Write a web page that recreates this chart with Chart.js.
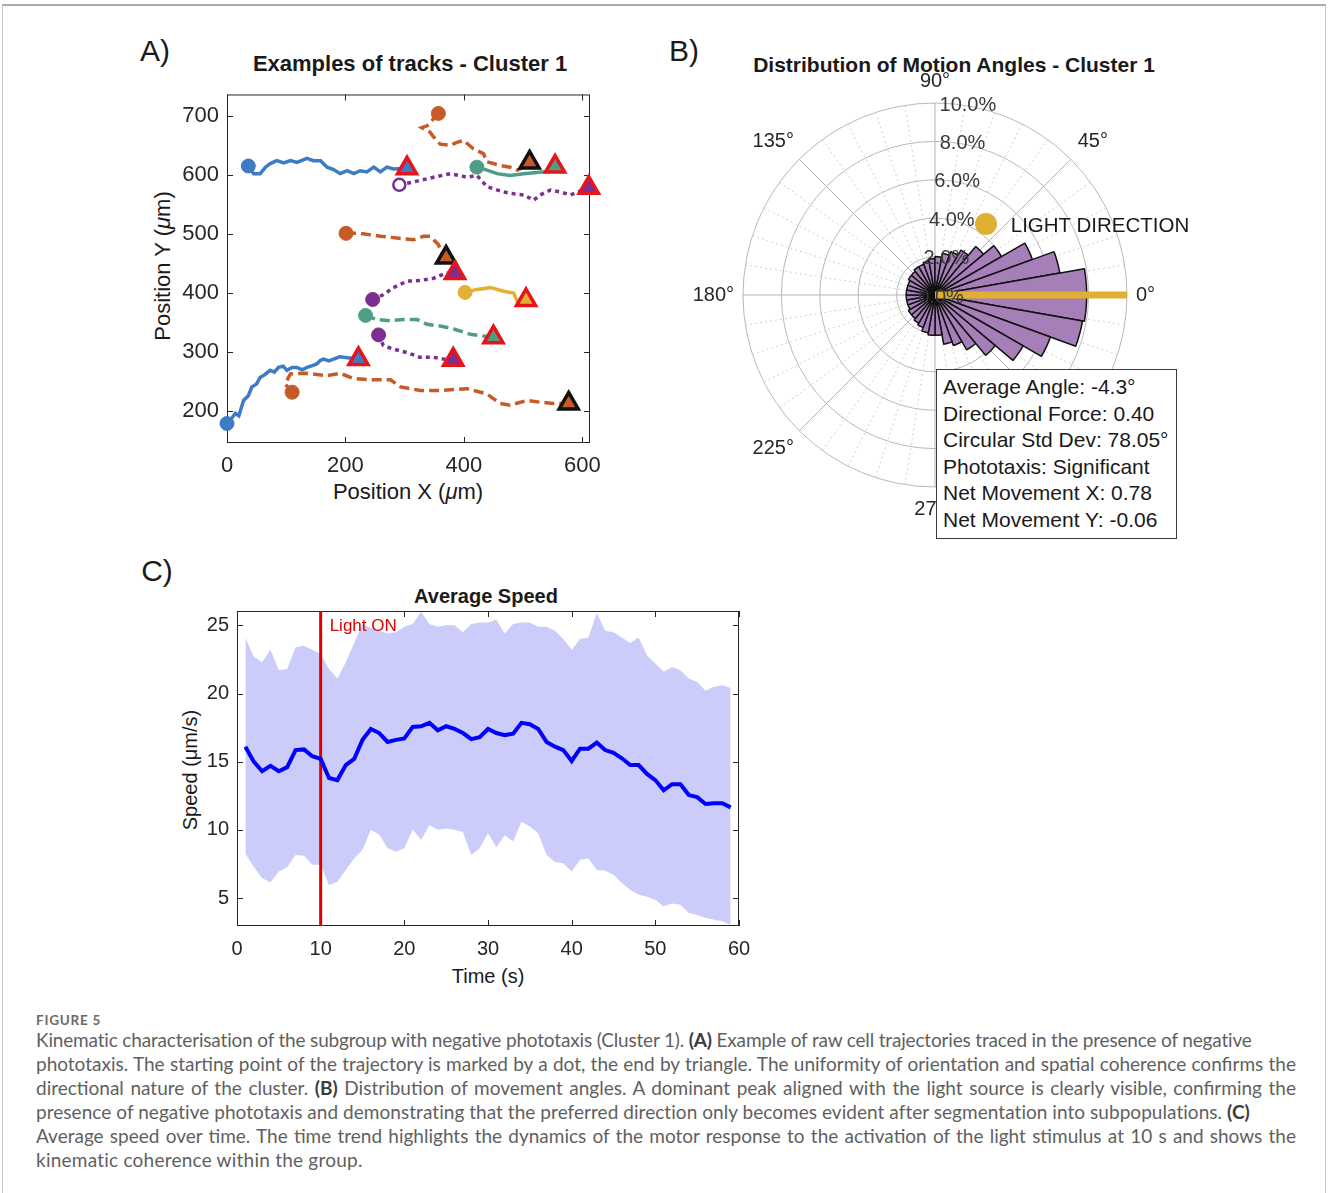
<!DOCTYPE html>
<html>
<head>
<meta charset="utf-8">
<script src="https://cdn.jsdelivr.net/npm/chart.js@4.4.1/dist/chart.umd.min.js"></script>
<style>
  body { margin: 0; background: #fff; }
  #page { position: relative; width: 1328px; height: 1193px; overflow: hidden;
          font-family: "Liberation Sans", Arial, sans-serif; color: #1a1a1a; }
  .frame { position: absolute; left: 2px; top: 4px; width: 1322px; height: 1200px;
           border: 1px solid #c4c4c4; border-top: 2px solid #a8a8a8; }
  .wrap { position: absolute; }
  .t { position: absolute; white-space: nowrap; line-height: 1; transform: translate(-50%, -50%); }
  .v { position: absolute; white-space: nowrap; line-height: 1; transform: translate(-50%, -50%) rotate(-90deg); }
  .stats { position: absolute; left: 936px; top: 369px; width: 233px; height: 164px; background: #fff;
           border: 1px solid #3a3a3a; padding: 4px 0 0 6px; font-size: 21px; line-height: 26.6px; color: #1a1a1a; }
  .legdot { position: absolute; left: 975px; top: 213px; width: 22px; height: 22px; border-radius: 50%; background: #e0b033; }
  .cap { position: absolute; left: 36px; width: 1260px; font-family: Lato, "Open Sans", sans-serif;
         font-size: 19px; color: #5f5f5f; white-space: nowrap; line-height: 1; }
  .cap.j { text-align: justify; text-align-last: justify; }
  .cap.fit { width: auto; }
  .cap b { color: #3c3c3c; }
</style>
</head>
<body>
<div id="page">
  <div class="frame"></div>

  <div class="t" style="left:155px;top:51px;font-size:30px;">A)</div>
  <div class="t" style="left:684px;top:51px;font-size:30px;">B)</div>
  <div class="t" style="left:157px;top:571px;font-size:30px;">C)</div>

  <div class="t" style="left:410px;top:64px;font-size:22px;font-weight:bold;">Examples of tracks - Cluster 1</div>
  <div class="t" style="left:954px;top:64px;font-size:21px;font-weight:bold;">Distribution of Motion Angles - Cluster 1</div>
  <div class="t" style="left:486px;top:596px;font-size:20px;font-weight:bold;">Average Speed</div>

  <div class="t" style="left:408px;top:492px;font-size:22px;">Position X (<i>μ</i>m)</div>
  <div class="v" style="left:163px;top:266px;font-size:22px;">Position Y (<i>μ</i>m)</div>
  <div class="t" style="left:488px;top:976px;font-size:20px;">Time (s)</div>
  <div class="v" style="left:190px;top:770px;font-size:20px;">Speed (μm/s)</div>

  <div class="wrap" style="left:150px;top:80px;width:470px;height:420px;"><canvas id="chartA"></canvas></div>
  <div class="wrap" style="left:680px;top:40px;width:550px;height:505px;"><canvas id="chartB"></canvas></div>
  <div class="wrap" style="left:150px;top:600px;width:620px;height:400px;"><canvas id="chartC"></canvas></div>

  <div class="legdot"></div>
  <div class="t" style="left:1100px;top:225px;font-size:20.5px;">LIGHT DIRECTION</div>

  <div class="stats">
    Average Angle: -4.3°<br>
    Directional Force: 0.40<br>
    Circular Std Dev: 78.05°<br>
    Phototaxis: Significant<br>
    Net Movement X: 0.78<br>
    Net Movement Y: -0.06
  </div>

  <div class="cap fit" data-w="65" style="top:1014px;font-size:13.5px;font-weight:bold;color:#6a6a6a;">FIGURE 5</div>
  <div class="cap fit" data-w="1217" style="top:1030px;">Kinematic characterisation of the subgroup with negative phototaxis (Cluster 1). <b>(A)</b> Example of raw cell trajectories traced in the presence of negative</div>
  <div class="cap j" style="top:1054px;">phototaxis. The starting point of the trajectory is marked by a dot, the end by triangle. The uniformity of orientation and spatial coherence confirms the</div>
  <div class="cap j" style="top:1078px;">directional nature of the cluster. <b>(B)</b> Distribution of movement angles. A dominant peak aligned with the light source is clearly visible, confirming the</div>
  <div class="cap fit" data-w="1215" style="top:1102px;">presence of negative phototaxis and demonstrating that the preferred direction only becomes evident after segmentation into subpopulations. <b>(C)</b></div>
  <div class="cap j" style="top:1126px;">Average speed over time. The time trend highlights the dynamics of the motor response to the activation of the light stimulus at 10 s and shows the</div>
  <div class="cap fit" data-w="327" style="top:1150px;">kinematic coherence within the group.</div>
</div>

<script>
// ---------- Panel A: example tracks (x, y in µm) ----------
var trackBlueTop = [[36,615],[45,602],[56,602],[65,613],[73,619],[84,624],[96,620],[107,624],[118,621],[135,628],[146,624],[158,624],[169,613],[180,609],[191,602],[203,607],[214,602],[225,607],[236,605],[248,613],[259,605],[270,613],[281,610],[304,611]];
var trackOrangeTop = [[357,704],[338,683],[329,680],[343,672],[349,664],[360,652],[377,650],[388,655],[400,658],[416,644],[433,636],[439,622],[461,616],[478,613],[490,608],[501,613],[511,621]];
var trackGreenTop = [[422,613],[439,608],[456,602],[478,599],[501,602],[523,604],[545,606],[554,614]];
var trackPurpleTop = [[291,583],[315,588],[349,596],[377,602],[405,596],[422,599],[439,580],[467,571],[484,568],[501,566],[518,557],[529,566],[546,574],[563,571],[580,566],[611,578]];
var trackOrangeMid = [[201,501],[225,501],[259,496],[287,493],[315,490],[332,496],[343,496],[357,482],[363,468],[370,460]];
var trackPurpleMid = [[246,389],[264,397],[281,409],[304,420],[326,421],[349,425],[371,434],[385,434]];
var trackYellow = [[402,401],[422,406],[445,409],[467,403],[484,400],[490,386],[505,388]];
var trackGreenMid = [[234,362],[253,355],[276,353],[298,355],[321,355],[338,347],[360,344],[383,339],[411,330],[433,327],[450,325]];
var trackPurpleLow = [[256,329],[264,311],[281,305],[304,299],[326,291],[349,291],[366,288],[382,287]];
var trackBlueLow = [[0,179],[8,188],[14,196],[20,192],[28,218],[36,226],[42,241],[50,246],[56,257],[64,262],[73,269],[80,266],[87,274],[95,276],[101,269],[110,274],[118,274],[127,270],[135,274],[144,277],[152,280],[158,286],[163,288],[172,285],[180,288],[190,292],[197,291],[222,288]];
var trackOrangeLow = [[110,232],[98,246],[107,263],[135,264],[169,260],[191,264],[214,255],[242,253],[276,253],[293,241],[326,235],[360,235],[405,238],[439,229],[461,213],[478,210],[506,218],[529,215],[551,213],[577,213]];
var xTicksA = [0, 200, 400, 600];
var yTicksA = [200, 300, 400, 500, 600, 700];

// ---------- Panel B: rose histogram, 10° bins (centre angle, % of steps) ----------
var roseBinCenters = [5,15,25,35,45,55,65,75,85,95,105,115,125,135,145,155,165,175,185,195,205,215,225,235,245,255,265,275,285,295,305,315,325,335,345,355];
var rosePercent = [7.9,6.6,5.4,4.0,3.3,2.7,2.4,2.2,2.0,1.9,1.8,1.7,1.7,1.6,1.6,1.5,1.5,1.5,1.5,1.5,1.5,1.6,1.6,1.7,1.8,2.0,2.1,2.1,2.6,2.8,3.3,4.1,5.3,6.4,7.8,7.9];
var rTicksB = [0, 2, 4, 6, 8, 10];
var thetaLabelsB = [0, 45, 90, 135, 180, 225, 270, 315];
var lightAngle = 0;
var lightLength = 10;

// ---------- Panel C: average speed over time ----------
var timeS = [1,2,3,4,5,6,7,8,9,10,11,12,13,14,15,16,17,18,19,20,21,22,23,24,25,26,27,28,29,30,31,32,33,34,35,36,37,38,39,40,41,42,43,44,45,46,47,48,49,50,51,52,53,54,55,56,57,58,59];
var speedMean = [16.1,15.0,14.3,14.7,14.3,14.6,15.85,15.9,15.4,15.2,13.8,13.65,14.75,15.2,16.6,17.4,17.1,16.45,16.6,16.7,17.55,17.6,17.85,17.3,17.6,17.4,17.1,16.65,16.8,17.4,17.1,16.95,17.05,17.85,17.75,17.4,16.45,16.1,15.85,15.05,15.95,15.95,16.4,15.85,15.65,15.25,14.75,14.75,14.1,13.65,12.9,13.35,13.35,12.55,12.4,11.9,11.95,11.95,11.65];
var speedUpper = [24.1,22.7,22.3,23.2,21.7,21.8,23.4,23.5,23.2,22.9,21.8,21.1,22.3,23.7,25.1,24.8,24.6,24.4,24.5,24.9,25.1,26.0,25.1,24.9,25.0,25.0,24.5,25.1,25.2,25.2,25.4,24.4,25.1,25.2,25.2,24.9,24.9,24.6,24.0,23.2,24.0,24.1,25.9,24.6,24.5,24.1,23.7,24.1,22.8,22.2,21.6,21.95,21.7,21.1,20.85,20.2,20.5,20.6,20.4];
var speedLower = [8.25,7.3,6.45,6.15,6.95,7.25,8.15,8.1,7.45,7.45,5.95,6.2,7.05,7.9,8.55,10.0,9.65,8.65,8.4,8.65,10.0,9.25,10.35,10.0,10.1,10.0,9.85,8.15,8.65,9.75,8.75,9.6,9.15,10.6,10.25,9.75,8.15,7.65,7.55,6.95,7.8,7.9,7.05,7.0,6.7,6.1,5.6,5.25,5.1,4.85,4.4,4.6,4.5,3.9,3.75,3.55,3.4,3.3,3.05];
var lightOnTime = 10;
var xTicksC = [0, 10, 20, 30, 40, 50, 60];
var yTicksC = [5, 10, 15, 20, 25];
var yMinC = 2.95, yMaxC = 26.05;

// caption lines: squeeze/stretch letter spacing to the widths seen in the figure
document.querySelectorAll('.cap.fit').forEach(function(el) {
    var w = el.getBoundingClientRect().width;
    var n = el.textContent.length;
    el.style.letterSpacing = ((+el.dataset.w - w) / n) + 'px';
});

Chart.defaults.font.family = "'Liberation Sans', Arial, sans-serif";
Chart.defaults.color = '#262626';

// track styles
var blue = '#3d7bc6', orange = '#c75b27', green = '#4f9d85', purple = '#7b2f91', yellow = '#e1b133';
var red = '#e8141c', black = '#111111';
var tracks = [
    { pts: trackOrangeLow, color: orange, dash: [10, 5], end: black },
    { pts: trackBlueLow, color: blue, dash: [], end: red },
    { pts: trackPurpleLow, color: purple, dash: [4, 4], end: red },
    { pts: trackGreenMid, color: green, dash: [10, 5], end: red },
    { pts: trackYellow, color: yellow, dash: [], end: red },
    { pts: trackPurpleMid, color: purple, dash: [4, 4], end: red },
    { pts: trackOrangeMid, color: orange, dash: [10, 5], end: black },
    { pts: trackPurpleTop, color: purple, dash: [4, 4], end: red, open: true },
    { pts: trackGreenTop, color: green, dash: [], end: red },
    { pts: trackOrangeTop, color: orange, dash: [10, 5], end: black },
    { pts: trackBlueTop, color: blue, dash: [], end: red }
];

// box with inward ticks on all four sides
var boxTicks = {
    id: 'boxTicks',
    beforeDatasetsDraw: function(chart) {
        var ctx = chart.ctx, a = chart.chartArea, x = chart.scales.x, y = chart.scales.y;
        var len = 6;
        ctx.save();
        ctx.strokeStyle = '#262626';
        ctx.lineWidth = 1;
        ctx.strokeRect(a.left + 0.5, a.top + 0.5, a.right - a.left - 1, a.bottom - a.top - 1);
        ctx.beginPath();
        x.ticks.forEach(function(t) {
            var px = Math.round(x.getPixelForValue(t.value)) + 0.5;
            ctx.moveTo(px, a.bottom); ctx.lineTo(px, a.bottom - len);
            ctx.moveTo(px, a.top); ctx.lineTo(px, a.top + len);
        });
        y.ticks.forEach(function(t) {
            var py = Math.round(y.getPixelForValue(t.value)) + 0.5;
            ctx.moveTo(a.left, py); ctx.lineTo(a.left + len, py);
            ctx.moveTo(a.right, py); ctx.lineTo(a.right - len, py);
        });
        ctx.stroke();
        ctx.restore();
    }
};

function fixedTicks(list) {
    return function(scale) { scale.ticks = list.map(function(v) { return { value: v }; }); };
}
function fixHeight(h) {
    return function(s) { s.height = h; s.paddingLeft = 0; s.paddingRight = 0; s.paddingTop = 0; s.paddingBottom = 0; };
}
function fixWidth(w) {
    return function(s) { s.width = w; s.paddingLeft = 0; s.paddingRight = 0; s.paddingTop = 0; s.paddingBottom = 0; };
}

// ---------- Chart A ----------
new Chart(document.getElementById('chartA'), {
    type: 'scatter',
    data: {
        datasets: tracks.map(function(tr) {
            var last = tr.pts.length - 1;
            return {
                data: tr.pts.map(function(p) { return { x: p[0], y: p[1] }; }),
                showLine: true,
                clip: false,
                borderColor: tr.color,
                borderWidth: 3.5,
                borderDash: tr.dash,
                borderCapStyle: 'butt',
                tension: 0,
                pointStyle: function(c) { return c.dataIndex === 0 ? 'circle' : 'triangle'; },
                pointRadius: function(c) { return c.dataIndex === 0 ? (tr.open ? 6 : 7) : (c.dataIndex === last ? 11 : 0); },
                pointBackgroundColor: function(c) { return (c.dataIndex === 0 && tr.open) ? '#ffffff' : tr.color; },
                pointBorderColor: function(c) { return c.dataIndex === 0 ? tr.color : tr.end; },
                pointBorderWidth: function(c) { return c.dataIndex === 0 ? (tr.open ? 2.5 : 1) : 3.5; }
            };
        })
    },
    options: {
        animation: false,
        responsive: true,
        maintainAspectRatio: false,
        layout: { padding: { left: 0, top: 12, right: 30, bottom: 12 } },
        plugins: { legend: { display: false }, tooltip: { enabled: false } },
        scales: {
            x: {
                type: 'linear', min: 0, max: 613,
                afterBuildTicks: fixedTicks(xTicksA),
                afterFit: fixHeight(45),
                grid: { display: false, drawTicks: false },
                border: { display: false },
                ticks: { font: { size: 22 }, color: '#262626', padding: 10, maxRotation: 0 }
            },
            y: {
                type: 'linear', min: 146, max: 736,
                afterBuildTicks: fixedTicks(yTicksA),
                afterFit: fixWidth(77),
                grid: { display: false, drawTicks: false },
                border: { display: false },
                ticks: { font: { size: 22 }, color: '#262626', padding: 8 }
            }
        }
    },
    plugins: [boxTicks]
});

// ---------- Chart B ----------
var polarDecor = {
    id: 'polarDecor',
    beforeDatasetsDraw: function(chart) {
        var s = chart.scales.r, ctx = chart.ctx;
        var R = s.getDistanceFromCenterForValue(s.max);
        ctx.save();
        for (var a = 0; a < 360; a += 9) {
            var major = a % 45 === 0;
            var rad = a * Math.PI / 180;
            ctx.beginPath();
            ctx.setLineDash(major ? [] : [2, 3]);
            ctx.strokeStyle = major ? '#b3b3b3' : '#cfcfcf';
            ctx.lineWidth = 1;
            ctx.moveTo(s.xCenter, s.yCenter);
            ctx.lineTo(s.xCenter + R * Math.cos(rad), s.yCenter - R * Math.sin(rad));
            ctx.stroke();
        }
        ctx.restore();
    },
    afterDatasetsDraw: function(chart) {
        var s = chart.scales.r, ctx = chart.ctx;
        var rad = lightAngle * Math.PI / 180;
        var L = s.getDistanceFromCenterForValue(lightLength);
        ctx.save();
        ctx.strokeStyle = '#e0b033';
        ctx.lineWidth = 7;
        ctx.lineCap = 'butt';
        ctx.beginPath();
        ctx.moveTo(s.xCenter, s.yCenter);
        ctx.lineTo(s.xCenter + L * Math.cos(rad), s.yCenter - L * Math.sin(rad));
        ctx.stroke();
        // radial tick labels
        ctx.font = "20px 'Liberation Sans', Arial, sans-serif";
        ctx.fillStyle = '#3a3a3a';
        ctx.textAlign = 'center';
        ctx.textBaseline = 'middle';
        rTicksB.forEach(function(v) {
            var d = s.getDistanceFromCenterForValue(v);
            ctx.fillText(v.toFixed(1) + '%', s.xCenter + 6 + d * 0.14, s.yCenter - d + 2);
        });
        // angle labels
        var R = s.getDistanceFromCenterForValue(s.max);
        ctx.fillStyle = '#262626';
        thetaLabelsB.forEach(function(deg) {
            var t = deg + '°';
            var w = ctx.measureText(t).width;
            var r2 = deg * Math.PI / 180;
            var c = Math.cos(r2), sn = Math.sin(r2);
            var k = Math.abs(Math.sin(2 * r2));
            ctx.fillText(t, s.xCenter + c * (R + 9 + w / 2 + 7 * k), s.yCenter - sn * (R + 22 + 3 * k));
        });
        ctx.restore();
    }
};

new Chart(document.getElementById('chartB'), {
    type: 'polarArea',
    data: {
        labels: roseBinCenters.slice().reverse().map(String),
        datasets: [{
            data: rosePercent.slice().reverse(),
            backgroundColor: '#a67fb9',
            borderColor: '#111111',
            borderWidth: 1.5
        }]
    },
    options: {
        animation: false,
        responsive: true,
        maintainAspectRatio: false,
        layout: { padding: { left: 63, top: 63, right: 103, bottom: 58 } },
        plugins: { legend: { display: false }, tooltip: { enabled: false } },
        scales: {
            r: {
                min: 0, max: 10, startAngle: 90,
                ticks: { display: false, stepSize: 2 },
                grid: { circular: true, color: '#b8b8b8', lineWidth: 1 },
                angleLines: { display: false },
                pointLabels: { display: false }
            }
        }
    },
    plugins: [polarDecor]
});

// ---------- Chart C ----------
var lightLabel = {
    id: 'lightLabel',
    afterDatasetsDraw: function(chart) {
        var ctx = chart.ctx, x = chart.scales.x, a = chart.chartArea;
        ctx.save();
        ctx.font = "17px 'Liberation Sans', Arial, sans-serif";
        ctx.fillStyle = '#e00000';
        ctx.textAlign = 'left';
        ctx.textBaseline = 'middle';
        ctx.fillText('Light ON', x.getPixelForValue(lightOnTime) + 9, a.top + 15);
        ctx.restore();
    }
};

function pairs(xs, ys) { return xs.map(function(t, i) { return { x: t, y: ys[i] }; }); }

new Chart(document.getElementById('chartC'), {
    type: 'scatter',
    data: {
        datasets: [
            { data: pairs(timeS, speedMean), showLine: true, borderColor: '#0000ff', borderWidth: 4,
              pointRadius: 0, tension: 0, order: 1 },
            { data: pairs(timeS, speedUpper), showLine: true, borderWidth: 0, pointRadius: 0,
              fill: '+1', backgroundColor: 'rgba(40,40,240,0.24)', order: 4 },
            { data: pairs(timeS, speedLower), showLine: true, borderWidth: 0, pointRadius: 0,
              order: 5 },
            { data: [{ x: lightOnTime, y: yMinC }, { x: lightOnTime, y: yMaxC }], showLine: true,
              borderColor: '#e00000', borderWidth: 3, pointRadius: 0, order: 2 }
        ]
    },
    options: {
        animation: false,
        responsive: true,
        maintainAspectRatio: false,
        layout: { padding: { left: 0, top: 11, right: 31, bottom: 24 } },
        plugins: { legend: { display: false }, tooltip: { enabled: false } },
        scales: {
            x: {
                type: 'linear', min: 0, max: 60,
                afterBuildTicks: fixedTicks(xTicksC),
                afterFit: fixHeight(50),
                grid: { display: false, drawTicks: false },
                border: { display: false },
                ticks: { font: { size: 20 }, color: '#262626', padding: 11, maxRotation: 0 }
            },
            y: {
                type: 'linear', min: yMinC, max: yMaxC,
                afterBuildTicks: fixedTicks(yTicksC),
                afterFit: fixWidth(87),
                grid: { display: false, drawTicks: false },
                border: { display: false },
                ticks: { font: { size: 20 }, color: '#262626', padding: 8 }
            }
        }
    },
    plugins: [boxTicks, lightLabel]
});
</script>
</body>
</html>
